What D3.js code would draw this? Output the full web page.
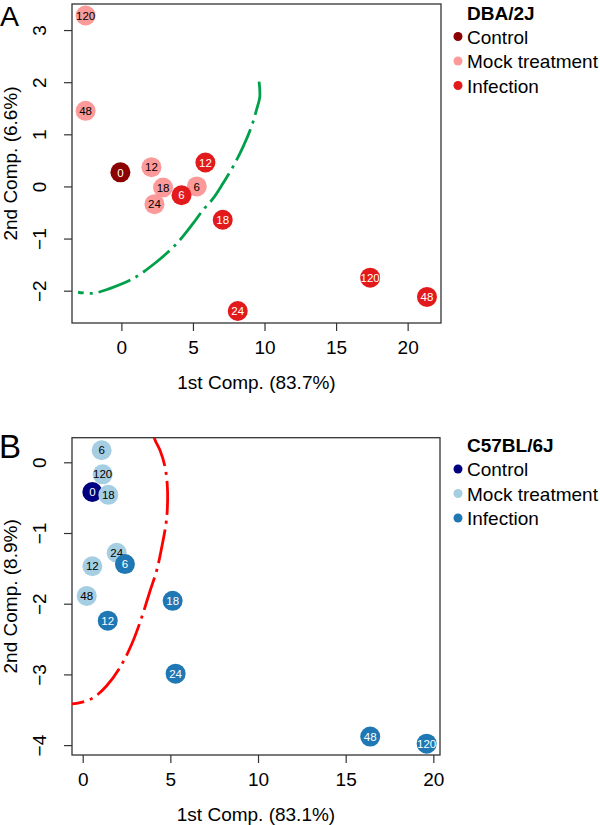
<!DOCTYPE html>
<html>
<head>
<meta charset="utf-8">
<script src="https://d3js.org/d3.v7.min.js"></script>
<style>
  body { margin: 0; background: #fff; }
  text { font-family: "Liberation Sans", Arial, sans-serif; }
</style>
</head>
<body>
<script>
// ---- panel A : DBA/2J ----
var groups = ["Control", "Mock treatment", "Infection"];

var ctrlA_x = [-0.07];
var ctrlA_y = [0.27];
var ctrlA_lab = ["0"];

var mockA_x = [-2.50, -2.50, 2.10, 2.91, 5.27, 2.31];
var mockA_y = [3.28, 1.45, 0.37, -0.02, 0.00, -0.34];
var mockA_lab = ["120", "48", "12", "18", "6", "24"];

var infA_x = [5.87, 4.20, 7.08, 8.13, 17.38, 21.35];
var infA_y = [0.46, -0.17, -0.64, -2.39, -1.75, -2.12];
var infA_lab = ["12", "6", "18", "24", "120", "48"];

// green dash-dot ellipse arc
var ellA_x = [9.62, 9.67, 9.44, 9.09, 8.50, 7.80, 7.10, 6.41, 5.71, 5.01, 3.85, 2.45, 0.81, -0.82, -1.99, -3.03];
var ellA_y = [2.01, 1.72, 1.47, 1.15, 0.76, 0.38, 0.06, -0.23, -0.45, -0.71, -1.10, -1.45, -1.77, -1.96, -2.05, -2.03];

var xTicksA = [0, 5, 10, 15, 20];
var yTicksA = [-2, -1, 0, 1, 2, 3];

// ---- panel B : C57BL/6J ----
var ctrlB_x = [0.55];
var ctrlB_y = [-0.42];
var ctrlB_lab = ["0"];

var mockB_x = [1.08, 1.14, 1.46, 1.94, 0.55, 0.23];
var mockB_y = [0.17, -0.17, -0.46, -1.28, -1.47, -1.89];
var mockB_lab = ["6", "120", "18", "24", "12", "48"];

var infB_x = [2.41, 5.13, 1.43, 5.30, 16.40, 19.62];
var infB_y = [-1.44, -1.96, -2.24, -2.99, -3.88, -3.98];
var infB_lab = ["6", "18", "12", "24", "48", "120"];

// red dash-dot ellipse arc
var ellB_x = [4.05, 4.12, 4.41, 4.70, 4.83, 4.83, 4.75, 4.51, 4.22, 3.84, 3.37, 2.80, 2.13, 1.37, 0.60, -0.15, -0.70];
var ellB_y = [0.40, 0.32, 0.17, -0.07, -0.35, -0.64, -0.87, -1.20, -1.53, -1.82, -2.19, -2.57, -2.90, -3.16, -3.33, -3.40, -3.42];

var xTicksB = [0, 5, 10, 15, 20];
var yTicksB = [-4, -3, -2, -1, 0];

var svg = d3.select("body").append("svg")
  .attr("width", 600)
  .attr("height", 825);

function drawPanel(p) {
  var x = d3.scaleLinear().domain(p.xDomain).range([p.left, p.right]);
  var y = d3.scaleLinear().domain(p.yDomain).range([p.bottom, p.top]);
  var g = svg.append("g");

  g.append("clipPath").attr("id", p.id + "-clip")
    .append("rect")
    .attr("x", p.left).attr("y", p.top)
    .attr("width", p.right - p.left).attr("height", p.bottom - p.top);

  // axes
  var xa = g.append("g")
    .attr("transform", "translate(0," + p.bottom + ")")
    .call(d3.axisBottom(x).tickValues(p.xTicks).tickSize(8).tickFormat(d3.format("d")));
  xa.select(".domain").remove();
  xa.selectAll("text").attr("y", 31).attr("dy", 0).style("font-size", "19px").attr("fill", "#000");

  var ya = g.append("g")
    .attr("transform", "translate(" + p.left + ",0)")
    .call(d3.axisLeft(y).tickValues(p.yTicks).tickSize(8).tickFormat(d3.format("d")));
  ya.select(".domain").remove();
  ya.selectAll("text")
    .attr("transform", "rotate(-90)")
    .attr("x", 0).attr("y", -26).attr("dy", 0)
    .attr("text-anchor", "middle")
    .style("font-size", "19px").attr("fill", "#000");
  g.selectAll(".tick line").attr("stroke", "#333").attr("stroke-width", 1.2);

  // frame
  g.append("rect")
    .attr("x", p.left).attr("y", p.top)
    .attr("width", p.right - p.left).attr("height", p.bottom - p.top)
    .attr("fill", "none").attr("stroke", "#333").attr("stroke-width", 1.3);

  // axis titles
  g.append("text")
    .attr("x", (p.left + p.right) / 2).attr("y", p.bottom + 66)
    .attr("text-anchor", "middle").style("font-size", "19px")
    .text(p.xTitle);
  g.append("text")
    .attr("transform", "translate(17," + (p.top + p.bottom) / 2 + ") rotate(-90)")
    .attr("text-anchor", "middle").style("font-size", "19px")
    .text(p.yTitle);

  // panel letter
  g.append("text")
    .attr("x", p.letterX).attr("y", p.letterY)
    .style("font-size", p.letterSize)
    .text(p.letter);

  // ellipse
  var line = d3.line()
    .x(function(d) { return x(d[0]); })
    .y(function(d) { return y(d[1]); })
    .curve(d3.curveCatmullRom);
  g.append("path")
    .datum(d3.zip(p.ellX, p.ellY))
    .attr("clip-path", "url(#" + p.id + "-clip)")
    .attr("d", line)
    .attr("fill", "none")
    .attr("stroke", p.ellColor)
    .attr("stroke-width", 2.8)
    .attr("stroke-dasharray", "34,6,3,6");

  // points, drawn control -> mock -> infection
  p.series.forEach(function(s, k) {
    var pts = d3.zip(s.x, s.y, s.lab);
    var pg = g.append("g");
    pg.selectAll("circle").data(pts).enter().append("circle")
      .attr("cx", function(d) { return x(d[0]); })
      .attr("cy", function(d) { return y(d[1]); })
      .attr("r", 10)
      .attr("fill", p.colors[k]);
    pg.selectAll("text").data(pts).enter().append("text")
      .attr("x", function(d) { return x(d[0]); })
      .attr("y", function(d) { return y(d[1]); })
      .attr("dy", "0.36em")
      .attr("text-anchor", "middle")
      .style("font-size", "11.5px")
      .attr("fill", p.labelColors[k])
      .text(function(d) { return d[2]; });
  });

  // legend
  var lg = g.append("g");
  lg.append("text")
    .attr("x", 467).attr("y", p.legendTop)
    .style("font-size", "19px").style("font-weight", "bold")
    .text(p.strain);
  groups.forEach(function(name, k) {
    var ly = p.legendTop + 24 + k * 24.5;
    lg.append("circle").attr("cx", 458).attr("cy", ly - 7).attr("r", 4.5).attr("fill", p.colors[k]);
    lg.append("text").attr("x", 467).attr("y", ly).style("font-size", "19px").text(name);
  });
}

drawPanel({
  id: "a", letter: "A", letterX: 0, letterY: 26, letterSize: "28.5px", strain: "DBA/2J",
  left: 72, right: 441, top: 4, bottom: 323,
  xDomain: [-3.45, 22.33], yDomain: [-2.62, 3.50],
  xTicks: xTicksA, yTicks: yTicksA,
  xTitle: "1st Comp. (83.7%)", yTitle: "2nd Comp. (6.6%)",
  ellX: ellA_x, ellY: ellA_y, ellColor: "#00a04a",
  colors: ["#8b0000", "#fb9a99", "#e31a1c"],
  labelColors: ["#fff", "#000", "#fff"],
  series: [
    {x: ctrlA_x, y: ctrlA_y, lab: ctrlA_lab},
    {x: mockA_x, y: mockA_y, lab: mockA_lab},
    {x: infA_x, y: infA_y, lab: infA_lab}
  ],
  legendTop: 19.5
});

drawPanel({
  id: "b", letter: "B", letterX: -1, letterY: 458, letterSize: "33px", strain: "C57BL/6J",
  left: 72, right: 440, top: 437.7, bottom: 755,
  xDomain: [-0.61, 20.38], yDomain: [-4.14, 0.348],
  xTicks: xTicksB, yTicks: yTicksB,
  xTitle: "1st Comp. (83.1%)", yTitle: "2nd Comp. (8.9%)",
  ellX: ellB_x, ellY: ellB_y, ellColor: "#ff0000",
  colors: ["#000080", "#a6cee3", "#1f78b4"],
  labelColors: ["#fff", "#000", "#fff"],
  series: [
    {x: ctrlB_x, y: ctrlB_y, lab: ctrlB_lab},
    {x: mockB_x, y: mockB_y, lab: mockB_lab},
    {x: infB_x, y: infB_y, lab: infB_lab}
  ],
  legendTop: 452
});
</script>
</body>
</html>
